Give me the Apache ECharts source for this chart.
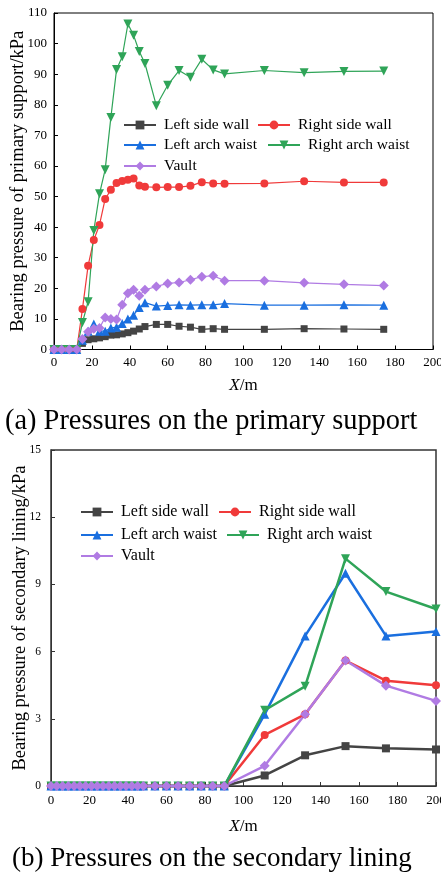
<!DOCTYPE html>
<html>
<head>
<meta charset="utf-8">
<script src="https://cdn.jsdelivr.net/npm/echarts@6/dist/echarts.min.js"></script>
<style>
html,body{margin:0;padding:0;background:#fff;}
#a{position:absolute;left:0;top:0;width:441px;height:440px;}
#b{position:absolute;left:0;top:440px;width:441px;height:434px;}
</style>
</head>
<body>
<div id="a"></div>
<div id="b"></div>
<script>
// ---------- data: (a) primary support ----------
const xPrimary = [0,4,8,12,15,18,21,24,27,30,33,36,39,42,45,48,54,60,66,72,78,84,90,111,132,153,174];
const priLeftSideWall  = [0,0,0,0,2.0,3.2,3.5,3.8,4.2,4.7,4.8,5.1,5.5,6.0,6.7,7.5,8.2,8.2,7.6,7.3,6.6,6.8,6.6,6.6,6.8,6.7,6.6];
const priRightSideWall = [0,0,0,0,13.2,27.4,35.8,40.7,49.2,52.2,54.4,55.1,55.5,55.9,53.6,53.2,53.0,53.1,53.1,53.5,54.7,54.3,54.2,54.3,55.0,54.6,54.6];
const priLeftArchWaist = [0,0,0,0,3.0,6.0,8.3,6.0,6.0,7.0,7.3,8.5,10.0,11.2,13.7,15.3,14.2,14.4,14.6,14.5,14.6,14.6,15.0,14.5,14.5,14.6,14.5];
const priRightArchWaist= [0,0,0,0,8.8,15.6,38.9,50.9,58.8,75.8,91.5,95.7,106.4,102.7,97.4,93.5,79.7,86.4,91.2,89.0,94.9,91.4,90.1,91.2,90.5,90.9,91.0];
const priVault         = [0,0,0,0,3.4,5.8,6.8,7.0,10.5,10.0,9.8,14.6,18.4,19.5,17.6,19.5,20.6,21.6,21.9,22.8,23.8,24.1,22.5,22.5,21.8,21.3,20.9];

// ---------- data: (b) secondary lining ----------
const xSecondary = [0,3,6,9,12,15,18,21,24,27,30,33,36,39,42,45,48,54,60,66,72,78,84,90,111,132,153,174,200];
const zeros24 = [0,0,0,0,0,0,0,0,0,0,0,0,0,0,0,0,0,0,0,0,0,0,0,0];
const secLeftSideWall   = zeros24.concat([0.47,1.37,1.78,1.68,1.63]);
const secRightSideWall  = zeros24.concat([2.28,3.20,5.60,4.70,4.50]);
const secLeftArchWaist  = zeros24.concat([3.20,6.70,9.50,6.70,6.90]);
const secRightArchWaist = zeros24.concat([3.38,4.45,10.15,8.68,7.90]);
const secVault          = zeros24.concat([0.90,3.20,5.60,4.48,3.80]);

// ---------- ticks / labels ----------
const xTicks = {min:0, max:200, interval:20};
const yTicksA = {min:0, max:110, interval:10};
const yTicksB = {min:0, max:15, interval:3};
const names = ['Left side wall','Right side wall','Left arch waist','Right arch waist','Vault'];
const colors = ['#444444','#f03a3a','#1a6fdf','#2fa458','#b07be3'];
const symbols = ['rect','circle','triangle','triangle','diamond'];
const rotates = [0,0,0,180,0];

const FF = 'Liberation Serif';

function pairs(xs, ys){ return xs.map((x,i)=>[x, ys[i]]); }

function makeSeries(xs, arrs, lw, sizes){
  return arrs.map((ys,i)=>({
    name: names[i], type:'line', data: pairs(xs, ys),
    symbol: symbols[i], symbolRotate: rotates[i], symbolSize: sizes[i],
    lineStyle:{color:colors[i], width:lw},
    itemStyle:{color:colors[i]},
    emphasis:{disabled:true}, animation:false, clip:false
  }));
}

function legends(items, fs){
  return items.map(it=>({
    left: it[1], top: it[2], data:[it[0]], padding:0, itemGap:0,
    itemWidth: 32, itemHeight: 11, selectedMode:false,
    textStyle:{fontFamily:FF, fontSize:fs, color:'#000', padding:[0,0,0,3]}
  }));
}

function xAxis(nameGap, labelMargin, color){
  return {
    type:'value', min:xTicks.min, max:xTicks.max, interval:xTicks.interval,
    name:'{i|X}/m', nameLocation:'middle', nameGap:nameGap, nameMoveOverlap:false,
    nameTextStyle:{fontFamily:FF, fontSize:17, color:'#000', rich:{i:{fontFamily:FF, fontSize:17, fontStyle:'italic', color:'#000'}}},
    axisLine:{show:true, lineStyle:{color:color, width:1}},
    axisTick:{show:true, inside:true, length:4, lineStyle:{color:color}},
    axisLabel:{fontFamily:FF, fontSize:13, color:'#000', margin:labelMargin},
    splitLine:{show:false}
  };
}

function yAxis(t, name, nameGap, fs, margin, color){
  return {
    type:'value', min:t.min, max:t.max, interval:t.interval,
    name:name, nameLocation:'middle', nameGap:nameGap, nameMoveOverlap:false,
    nameTextStyle:{fontFamily:FF, fontSize:18.5, color:'#000'},
    axisLine:{show:true, lineStyle:{color:color, width:1}},
    axisTick:{show:true, inside:true, length:4, lineStyle:{color:color}},
    axisLabel:{fontFamily:FF, fontSize:fs, color:'#000', margin:margin},
    splitLine:{show:false}
  };
}

const chartA = echarts.init(document.getElementById('a'), null, {renderer:'canvas'});
chartA.setOption({
  animation:false,
  backgroundColor:'#fff',
  title:{text:'(a) Pressures on the primary support', left:5, top:408, padding:0,
    textStyle:{fontFamily:FF, fontSize:28.4, fontWeight:'normal', color:'#000'}},
  grid:{left:54, right:8, top:13, bottom:440-349.5, show:true, borderColor:'#000', borderWidth:1,
    outerBoundsMode:'none', containLabel:false},
  legend: legends([
    ['Left side wall',123,117],['Right side wall',257,117],
    ['Left arch waist',123,137],['Right arch waist',267,137],
    ['Vault',123,158]
  ], 15.5),
  xAxis: xAxis(28, 7, '#000'),
  yAxis: yAxis(yTicksA, 'Bearing pressure of primary support/kPa', 26, 13, 7, '#000'),
  series: makeSeries(xPrimary, [priLeftSideWall, priRightSideWall, priLeftArchWaist, priRightArchWaist, priVault], 1.2, [7,8,9,9,10])
});

const chartB = echarts.init(document.getElementById('b'), null, {renderer:'canvas'});
chartB.setOption({
  animation:false,
  backgroundColor:'#fff',
  title:{text:'(b) Pressures on the secondary lining', left:12, top:405, padding:0,
    textStyle:{fontFamily:FF, fontSize:27, fontWeight:'normal', color:'#000'}},
  grid:{left:51, right:5, top:10, bottom:88, show:true, borderColor:'#333', borderWidth:1.5,
    outerBoundsMode:'none', containLabel:false},
  legend: legends([
    ['Left side wall',80,64],['Right side wall',218,64],
    ['Left arch waist',80,87],['Right arch waist',226,87],
    ['Vault',80,108]
  ], 16),
  xAxis: xAxis(32, 8, '#333'),
  yAxis: yAxis(yTicksB, 'Bearing pressure of secondary lining/kPa', 21, 11.5, 10, '#333'),
  series: makeSeries(xSecondary, [secLeftSideWall, secRightSideWall, secLeftArchWaist, secRightArchWaist, secVault], 2.5, [8,8,9,9,10])
});
</script>
</body>
</html>
